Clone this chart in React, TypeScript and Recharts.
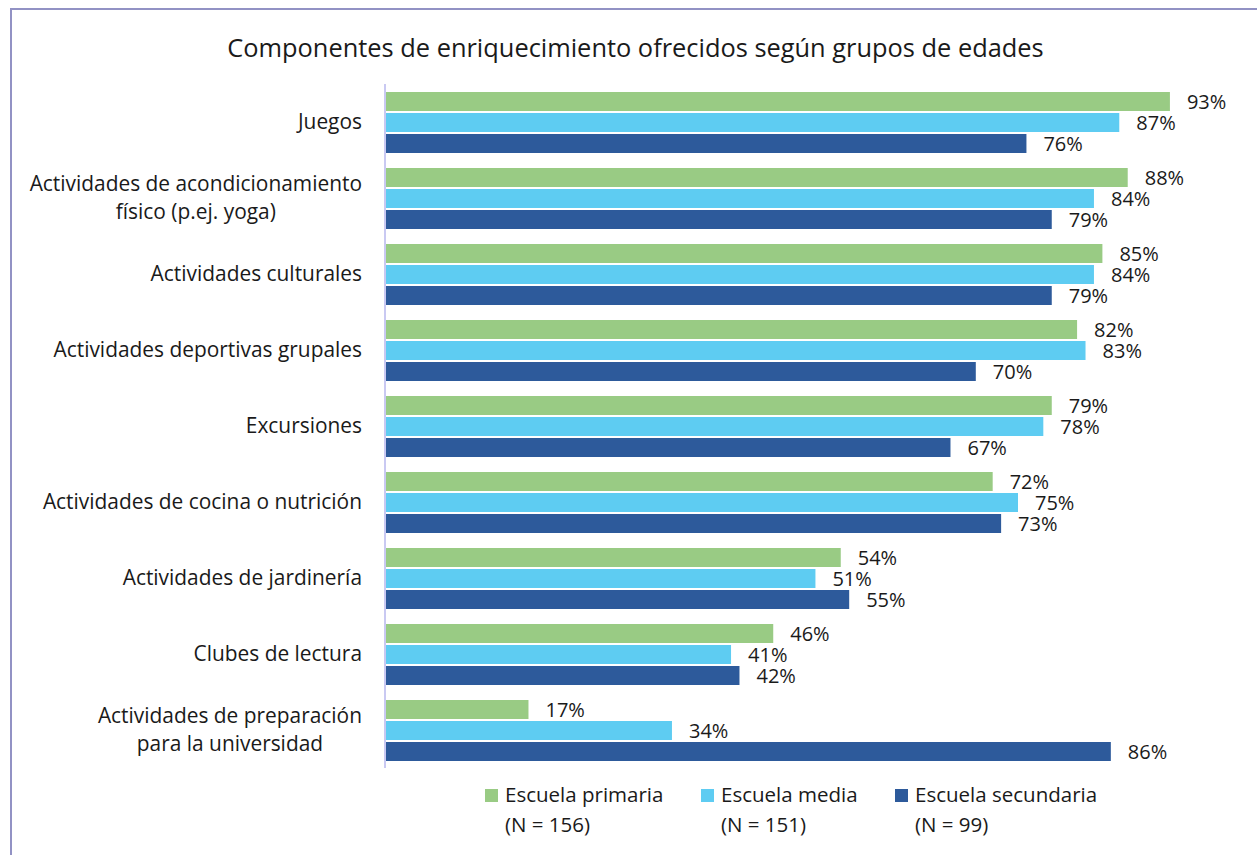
import React from "react";
import { BarChart, Bar, XAxis, YAxis, LabelList, Legend } from "recharts";

const TITLE = "Componentes de enriquecimiento ofrecidos según grupos de edades";

const categories = [
  "Juegos",
  "Actividades de acondicionamiento\nfísico (p.ej. yoga)",
  "Actividades culturales",
  "Actividades deportivas grupales",
  "Excursiones",
  "Actividades de cocina o nutrición",
  "Actividades de jardinería",
  "Clubes de lectura",
  "Actividades de preparación\npara la universidad",
];

const primaria = [93, 88, 85, 82, 79, 72, 54, 46, 17];
const media = [87, 84, 84, 83, 78, 75, 51, 41, 34];
const secundaria = [76, 79, 79, 70, 67, 73, 55, 42, 86];

const seriesNames = ["Escuela primaria", "Escuela media", "Escuela secundaria"];
const seriesN = ["(N = 156)", "(N = 151)", "(N = 99)"];
const seriesKeys = ["primaria", "media", "secundaria"];
const seriesColors = ["#99CB84", "#5ECCF2", "#2D5A9B"];

const data = categories.map((name, i) => ({
  name,
  primaria: primaria[i],
  media: media[i],
  secundaria: secundaria[i],
}));

const FONT = "'Open Sans', sans-serif";
const TEXT = "#1A1A1A";

let canvasCtx: CanvasRenderingContext2D | null = null;
function measure(text: string, font: string): number {
  if (!canvasCtx) {
    const c = document.createElement("canvas");
    canvasCtx = c.getContext("2d");
  }
  if (!canvasCtx) return text.length * 10;
  canvasCtx.font = font;
  return canvasCtx.measureText(text).width;
}

const CategoryTick = (props: any) => {
  const { x, y, payload } = props;
  const lines = String(payload.value).split("\n");
  const lh = 28;
  const fs = 20.9;
  if (lines.length === 1) {
    return (
      <text x={x} y={y + 7} textAnchor="end" fontFamily={FONT} fontSize={fs} fill={TEXT}>
        {lines[0]}
      </text>
    );
  }
  const maxW = Math.max(...lines.map((l) => measure(l, `${fs}px 'Open Sans'`)));
  const cx = x - maxW / 2;
  return (
    <g>
      {lines.map((l, i) => (
        <text
          key={i}
          x={cx}
          y={y + 7 + (i - (lines.length - 1) / 2) * lh}
          textAnchor="middle"
          fontFamily={FONT}
          fontSize={fs}
          fill={TEXT}
        >
          {l}
        </text>
      ))}
    </g>
  );
};

const itemWidths = [216, 194, 220];

const CustomLegend = () => (
  <div style={{ display: "flex", fontFamily: FONT, fontSize: 20.5, color: TEXT }}>
    {seriesNames.map((n, i) => (
      <div key={n} style={{ width: itemWidths[i], display: "flex", alignItems: "flex-start" }}>
        <div
          style={{
            width: 13,
            height: 13,
            background: seriesColors[i],
            marginTop: 9,
            marginRight: 7,
            flex: "none",
          }}
        />
        <div style={{ lineHeight: "29.5px", whiteSpace: "nowrap" }}>
          <div>{n}</div>
          <div>{seriesN[i]}</div>
        </div>
      </div>
    ))}
  </div>
);

export default function App() {
  return (
    <div
      style={{
        position: "absolute",
        left: 0,
        top: 0,
        width: 1257,
        height: 855,
        overflow: "hidden",
        background: "#fff",
      }}
    >
      <div
        style={{
          position: "absolute",
          left: 10,
          top: 8,
          width: 1400,
          height: 1000,
          borderLeft: "2px solid #9292C4",
          borderTop: "2px solid #9292C4",
        }}
      />
      <div
        style={{
          position: "absolute",
          left: 0,
          top: 30,
          width: 1271,
          textAlign: "center",
          fontFamily: FONT,
          fontSize: 25.4,
          color: TEXT,
          lineHeight: "34px",
        }}
      >
        {TITLE}
      </div>
      <div style={{ position: "absolute", left: 0, top: 0 }}>
        <BarChart
          width={1257}
          height={855}
          data={data}
          layout="vertical"
          margin={{ top: 84, right: 28, bottom: 87, left: 0 }}
          barSize={19}
          barGap={2}
        >
          <XAxis type="number" domain={[0, 100]} hide />
          <YAxis
            type="category"
            dataKey="name"
            width={385}
            interval={0}
            tickLine={false}
            tickSize={0}
            tickMargin={23}
            axisLine={{ stroke: "#C9C9F2", strokeWidth: 2 }}
            tick={<CategoryTick />}
          />
          <Legend
            layout="vertical"
            align="center"
            verticalAlign="middle"
            wrapperStyle={{ position: "absolute", top: 780, left: 485, width: 700 }}
            content={<CustomLegend />}
          />
          {seriesKeys.map((k, i) => (
            <Bar key={k} dataKey={k} name={seriesNames[i]} fill={seriesColors[i]} isAnimationActive={false}>
              <LabelList
                dataKey={k}
                position="right"
                offset={17}
                formatter={(v: any) => `${v}%`}
                style={{ fontFamily: FONT, fontSize: 20, fill: TEXT }}
              />
            </Bar>
          ))}
        </BarChart>
      </div>
    </div>
  );
}
